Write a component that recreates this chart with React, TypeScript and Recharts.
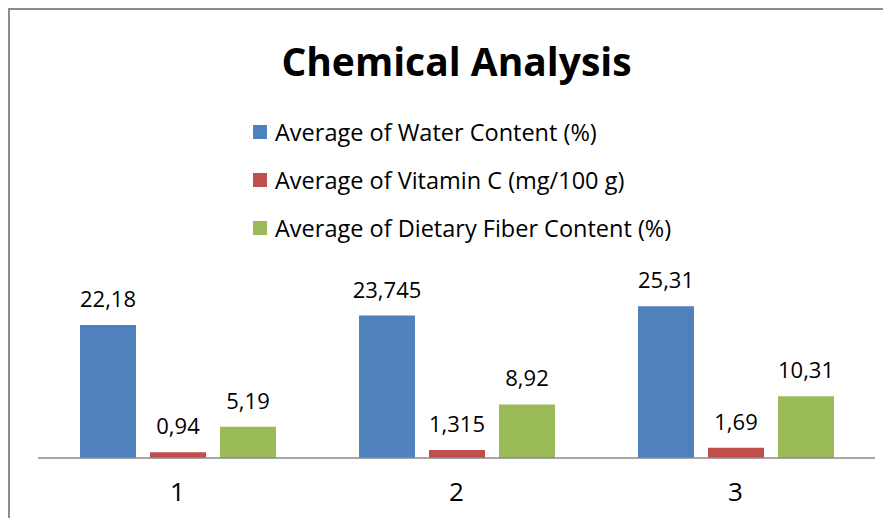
import React from 'react';
import { BarChart, Bar, XAxis, YAxis, Legend, LabelList } from 'recharts';

const categories = ['1', '2', '3'];
const waterContent = [22.18, 23.745, 25.31];
const vitaminC = [0.94, 1.315, 1.69];
const dietaryFiber = [5.19, 8.92, 10.31];

const seriesNames = [
  'Average of Water Content (%)',
  'Average of Vitamin C (mg/100 g)',
  'Average of Dietary Fiber Content (%)',
];
const seriesColors = ['#4F81BD', '#C0504D', '#9BBB59'];

const data = categories.map((c, i) => ({
  name: c,
  water: waterContent[i],
  vitc: vitaminC[i],
  fiber: dietaryFiber[i],
}));

const FONT = '"Open Sans", "Noto Sans", sans-serif';

const fmt = (v: any) => String(v).replace('.', ',');

const renderLegend = (props: any) => {
  const payload = [...(props.payload || [])].sort(
    (a: any, b: any) => seriesNames.indexOf(a.value) - seriesNames.indexOf(b.value)
  );
  return (
    <div style={{ fontFamily: FONT }}>
      {payload.map((entry: any, i: number) => (
        <div
          key={i}
          style={{ display: 'flex', alignItems: 'center', height: 48 }}
        >
          <div style={{ width: 14, height: 14, background: entry.color, marginRight: 8 }} />
          <span style={{ fontSize: 23.5, color: '#000', whiteSpace: 'nowrap' }}>{entry.value}</span>
        </div>
      ))}
    </div>
  );
};

const labelStyle = { fontSize: 22, fill: '#000', fontFamily: FONT };

export default function App() {
  return (
    <div style={{ position: 'relative', width: 883, height: 510, fontFamily: FONT }}>
      <BarChart
        width={883}
        height={510}
        data={data}
        margin={{ top: 270, right: 16, bottom: 20, left: 30 }}
        barGap={14}
      >
        <XAxis
          dataKey="name"
          axisLine={{ stroke: '#8a8a8a', strokeWidth: 1.5 }}
          tickLine={false}
          tickSize={0}
          tickMargin={25}
          height={40}
          tick={{ fontSize: 26, fill: '#000', fontFamily: FONT }}
        />
        <YAxis hide domain={[0, 30]} />
        <Legend
          layout="vertical"
          align="center"
          verticalAlign="middle"
          wrapperStyle={{ top: 100, left: 245, width: 500 }}
          content={renderLegend}
        />
        <Bar dataKey="water" name={seriesNames[0]} fill={seriesColors[0]} barSize={56} isAnimationActive={false}>
          <LabelList dataKey="water" position="top" offset={18} formatter={fmt} style={labelStyle} />
        </Bar>
        <Bar dataKey="vitc" name={seriesNames[1]} fill={seriesColors[1]} barSize={56} isAnimationActive={false}>
          <LabelList dataKey="vitc" position="top" offset={18} formatter={fmt} style={labelStyle} />
        </Bar>
        <Bar dataKey="fiber" name={seriesNames[2]} fill={seriesColors[2]} barSize={56} isAnimationActive={false}>
          <LabelList dataKey="fiber" position="top" offset={18} formatter={fmt} style={labelStyle} />
        </Bar>
      </BarChart>
      <div
        style={{
          position: 'absolute',
          left: 14,
          width: 869,
          top: 33,
          fontSize: 39,
          lineHeight: '40px',
          fontWeight: 700,
          textAlign: 'center',
          color: '#000',
          whiteSpace: 'nowrap',
        }}
      >
        Chemical Analysis
      </div>
      <div style={{ position: 'absolute', left: 0, top: 0, width: 883, height: 2, background: '#8c8c8c' }} />
      <div style={{ position: 'absolute', left: 0, top: 0, width: 2, height: 510, background: '#8c8c8c' }} />
    </div>
  );
}
